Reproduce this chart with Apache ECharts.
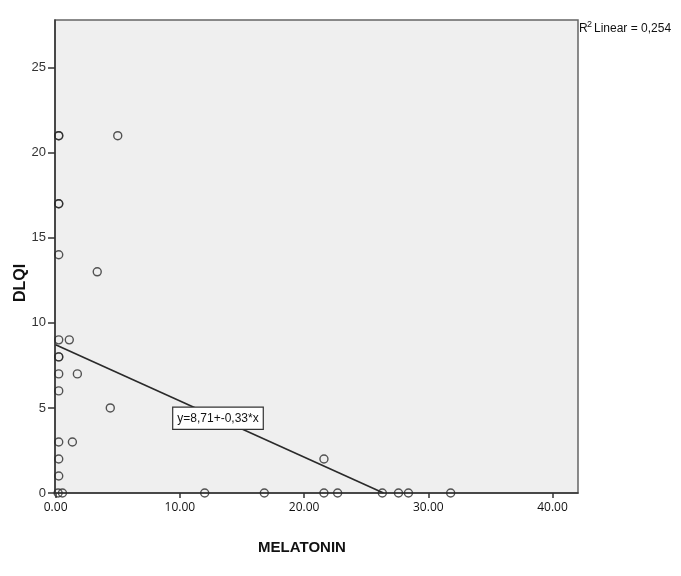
<!DOCTYPE html>
<html>
<head>
<meta charset="utf-8">
<script src="https://cdn.jsdelivr.net/npm/echarts@6/dist/echarts.min.js"></script>
<style>html,body{margin:0;padding:0;background:#fff}#c{width:681px;height:576px}</style>
</head>
<body>
<div id="c"></div>
<script>
// MELATONIN (x) and DLQI (y) observations
const melatonin = [0.25, 0.25, 0.25, 0.25, 0.25, 0.25, 0.25, 0.25, 0.25, 0.25, 0.25, 0.25, 0.25, 0.2, 0.55,
                   1.1, 1.75, 1.35, 3.35, 4.4, 5.0, 21.6,
                   12.0, 16.8, 21.6, 22.7, 26.3, 27.6, 28.4, 31.8];
const dlqi      = [21, 21, 17, 17, 14, 9, 8, 8, 7, 6, 3, 2, 1, 0, 0,
                   9, 7, 3, 13, 5, 21, 2,
                   0, 0, 0, 0, 0, 0, 0, 0];
const fitIntercept = 8.71;
const fitSlope = -0.33;
const rSquared = '0,254';
const xTicks = [0, 10, 20, 30, 40];
const yTicks = [0, 5, 10, 15, 20, 25];
const xName = 'MELATONIN';
const yName = 'DLQI';
const eqText = 'y=8,71+-0,33*x';
const eqAtX = 13.07;

const points = melatonin.map((x, i) => [x, dlqi[i]]);
const xEnd = -fitIntercept / fitSlope;
const fitLine = [[0, fitIntercept], [xEnd, 0]];

const chart = echarts.init(document.getElementById('c'), null, {renderer: 'canvas'});
chart.setOption({
  animation: false,
  backgroundColor: '#ffffff',
  grid: {left: 55, top: 20, right: 103, bottom: 83, show: true,
         backgroundColor: '#efefef', borderColor: '#666666', borderWidth: 1.5},
  xAxis: {
    type: 'value', min: -0.05, max: 42.05,
    axisLine: {show: true, onZero: false, lineStyle: {color: '#333', width: 1.5}},
    axisTick: {show: true, length: 5, customValues: xTicks, lineStyle: {color: '#333', width: 1.5}},
    axisLabel: {customValues: xTicks, formatter: v => v.toFixed(2), color: '#111',
                fontFamily: 'Open Sans', fontSize: 12, margin: 9},
    splitLine: {show: false}
  },
  yAxis: {
    type: 'value', min: 0, max: 27.8,
    axisLine: {show: true, onZero: false, lineStyle: {color: '#333', width: 1.5}},
    axisTick: {show: true, length: 7, customValues: yTicks, lineStyle: {color: '#333', width: 1.5}},
    axisLabel: {customValues: yTicks, color: '#333', fontFamily: 'Liberation Sans', fontSize: 13, margin: 9},
    splitLine: {show: false}
  },
  series: [
    {
      type: 'line', data: fitLine, symbol: 'none', silent: true,
      lineStyle: {color: '#2a2a2a', width: 1.6}, z: 3,
      markPoint: {
        symbol: 'rect', symbolSize: 0, silent: true,
        data: [{coord: [eqAtX, fitIntercept + fitSlope * eqAtX]}],
        label: {show: true, position: 'inside', formatter: eqText, color: '#111',
                fontFamily: 'Liberation Sans', fontSize: 12,
                backgroundColor: '#ffffff', borderColor: '#333', borderWidth: 1.2,
                padding: [5, 4, 4, 4]}
      }
    },
    {
      type: 'scatter', data: points, symbol: 'circle', symbolSize: 8, clip: false,
      itemStyle: {color: 'rgba(0,0,0,0)', borderColor: '#2a2a2a', borderWidth: 1.4}, z: 4
    }
  ],
  graphic: [
    {type: 'text', left: 579, top: 23, style: {text: 'R', font: '12px "Liberation Sans"', fill: '#111'}},
    {type: 'text', left: 587, top: 20, style: {text: '2', font: '9px "Liberation Sans"', fill: '#111'}},
    {type: 'text', left: 594, top: 23, style: {text: 'Linear = ' + rSquared, font: '12px "Liberation Sans"', fill: '#111'}},
    {type: 'text', x: 21, y: 283, rotation: Math.PI / 2,
     style: {text: yName, font: 'bold 16px "Liberation Sans"', fill: '#111', align: 'center', verticalAlign: 'middle'}},
    {type: 'text', x: 302, y: 548,
     style: {text: xName, font: 'bold 15px "Liberation Sans"', fill: '#111', align: 'center', verticalAlign: 'middle'}}
  ]
});
</script>
</body>
</html>
